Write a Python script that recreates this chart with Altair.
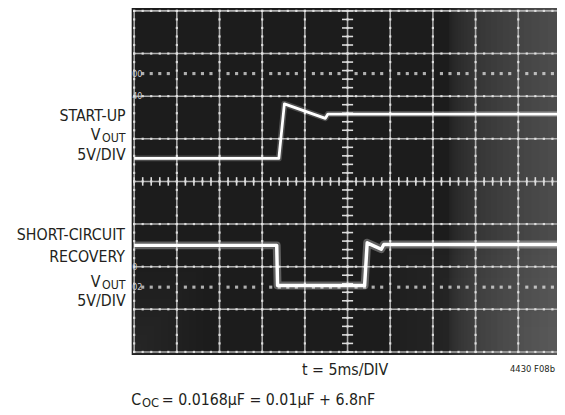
import altair as alt
import numpy as np
import pandas as pd

# ---------------- data (in scope divisions) ----------------
# start-up trace (top)
top_x = [0.0, 3.39, 3.52, 4.48, 4.54, 9.91]
top_y = [0.54, 0.54, 1.82, 1.48, 1.58, 1.58]
# short-circuit recovery trace (bottom)
bot_x = [0.0, 3.34, 3.36, 5.40, 5.46, 5.79, 5.85, 9.91]
bot_y = [-1.50, -1.50, -2.44, -2.44, -1.44, -1.59, -1.48, -1.48]
# dotted cursor levels
cursor_y = [2.53, -2.48]
# graticule
grid_x = list(range(0, 10))
grid_y = list(range(-4, 5))
# on-screen readout fragments
readout_text = ["00", "40", "0", "02"]
readout_y = [2.53, 2.0, -2.0, -2.48]

# labels
left_top = ["START-UP", "5V/DIV"]
left_bot = ["SHORT-CIRCUIT", "RECOVERY", "5V/DIV"]
x_label = "t = 5ms/DIV"
fig_id = "4430 F08b"
cap_main = "C"
cap_sub = "OC"
cap_rest = "= 0.0168µF = 0.01µF + 6.8nF"

FONT = "Liberation Sans Narrow, DejaVu Sans Condensed, Roboto, sans-serif"
TXT = "#231f20"

W, H = 429, 346
XD = [0, W / 43.3]
YD = [-4, 4]
xs = alt.Scale(domain=XD, nice=False, zero=False)
ys = alt.Scale(domain=YD, nice=False, zero=False)

one = alt.Data(values=[{"a": 1}])


def box(x0, x1, y0, y1, color, op):
    return alt.Chart(one).mark_rect(color=color, opacity=op).encode(
        x=alt.value(x0), x2=alt.value(x1), y=alt.value(y0), y2=alt.value(y1)
    )


# background screen with a soft, lighter right / bottom edge
bg_layers = [box(-2.5, W + 10, -6, H + 3, "#1c1c1c", 1)]
for i in range(24):
    bg_layers.append(box(W - 110 + i * i * 0.19, W + 10, -6, H + 3, "#ffffff", 0.011))
for i in range(12):
    bg_layers.append(box(W - 170 + i * i * 1.1, W + 10, H - 110 + i * i * 0.7, H + 3, "#ffffff", 0.008))
for i in range(10):
    bg_layers.append(box(-2.5, 70 - i * 7, H - 90 + i * 9, H + 3, "#ffffff", 0.008))

vgrid = alt.Chart(pd.DataFrame({"gx": grid_x})).mark_rule(
    color="#aeaeae", strokeWidth=1.6
).encode(x=alt.X("gx:Q", scale=xs, axis=None))
hgrid = alt.Chart(pd.DataFrame({"gy": grid_y})).mark_rule(
    color="#aeaeae", strokeWidth=1.6
).encode(y=alt.Y("gy:Q", scale=ys, axis=None))

# bright dots along graticule lines every 0.2 div
sub_y = [round(v, 2) for v in np.arange(-4, 4.001, 0.2)]
sub_x = [round(v, 2) for v in np.arange(0, 9.9, 0.2)]
dots = pd.DataFrame(
    [{"px": gx, "py": v} for gx in grid_x for v in sub_y]
    + [{"px": v, "py": gy} for gy in grid_y for v in sub_x]
)
gdots = alt.Chart(dots).mark_square(size=5, color="#e6e6e6", opacity=0.9).encode(
    x=alt.X("px:Q", scale=xs, axis=None), y=alt.Y("py:Q", scale=ys, axis=None)
)

# centre cross minor ticks
vt = pd.DataFrame({"yy": sub_y, "xa": 4.87, "xb": 5.13})
vticks = alt.Chart(vt).mark_rule(color="#dddddd", strokeWidth=1.6).encode(
    x=alt.X("xa:Q", scale=xs, axis=None), x2="xb:Q", y=alt.Y("yy:Q", scale=ys, axis=None)
)
ht = pd.DataFrame({"xx": sub_x, "ya": -0.1, "yb": 0.1})
hticks = alt.Chart(ht).mark_rule(color="#dddddd", strokeWidth=1.6).encode(
    x=alt.X("xx:Q", scale=xs, axis=None), y=alt.Y("ya:Q", scale=ys, axis=None), y2="yb:Q"
)

# cursor dotted lines
cur = pd.DataFrame(
    [{"cx": v, "cy": cy} for cy in cursor_y for v in sub_x if abs(v - round(v)) > 0.05]
)
cdots = alt.Chart(cur).mark_square(size=10, color="#eeeeee").encode(
    x=alt.X("cx:Q", scale=xs, axis=None), y=alt.Y("cy:Q", scale=ys, axis=None)
)

# left-edge readouts
rd = pd.DataFrame({"t": readout_text, "ry": readout_y, "rx": 0.0})
readouts = alt.Chart(rd).mark_text(
    align="left", baseline="middle", fontSize=9, font=FONT, color="#cfcfcf", dx=-2
).encode(x=alt.X("rx:Q", scale=xs, axis=None), y=alt.Y("ry:Q", scale=ys, axis=None), text="t:N")

tr_top = pd.DataFrame({"x": top_x, "y": top_y, "o": list(range(len(top_x)))})
tr_bot = pd.DataFrame({"x": bot_x, "y": bot_y, "o": list(range(len(bot_x)))})


def trace(df, w, op):
    return alt.Chart(df).mark_line(color="white", strokeWidth=w, opacity=op, strokeJoin="round").encode(
        x=alt.X("x:Q", scale=xs, axis=None),
        y=alt.Y("y:Q", scale=ys, axis=None),
        order="o:Q",
    )


def txt(s, x, y, size=16, align="right"):
    return alt.Chart(alt.Data(values=[{"t": s}])).mark_text(
        align=align, baseline="alphabetic", fontSize=size, font=FONT, color=TXT
    ).encode(x=alt.value(x), y=alt.value(y), text="t:N")


texts = [
    txt(left_top[0], -8.7, 111.3),
    txt("V", -34.3, 131.3),
    txt("OUT", -8.7, 133.5, size=12.5),
    txt(left_top[1], -8.7, 150.8),
    txt(left_bot[0], -9.3, 232.7),
    txt(left_bot[1], -9.3, 254.7),
    txt("V", -34.3, 279.7),
    txt("OUT", -8.7, 281.8, size=12.5),
    txt(left_bot[2], -8.7, 299.6),
    txt(x_label, 214, 369.5, align="center"),
    txt(fig_id, 427, 366, size=9.5),
    txt(cap_main, -3, 399.5, align="left"),
    txt(cap_sub, 8, 402, size=13, align="left"),
    txt(cap_rest, 28, 399.5, align="left"),
]

chart = alt.layer(
    *bg_layers, vgrid, hgrid, gdots, vticks, hticks, cdots, readouts,
    trace(tr_top, 6, 0.22), trace(tr_bot, 8, 0.3),
    trace(tr_top, 2.8, 1), trace(tr_bot, 3.5, 1),
    *texts,
).properties(
    width=W, height=H,
    autosize="none",
    padding={"left": 128, "top": 0, "right": 0, "bottom": 59},
    background="white",
).configure_view(stroke=None)

chart.save("out.html", embed_options={"renderer": "svg", "actions": False})
